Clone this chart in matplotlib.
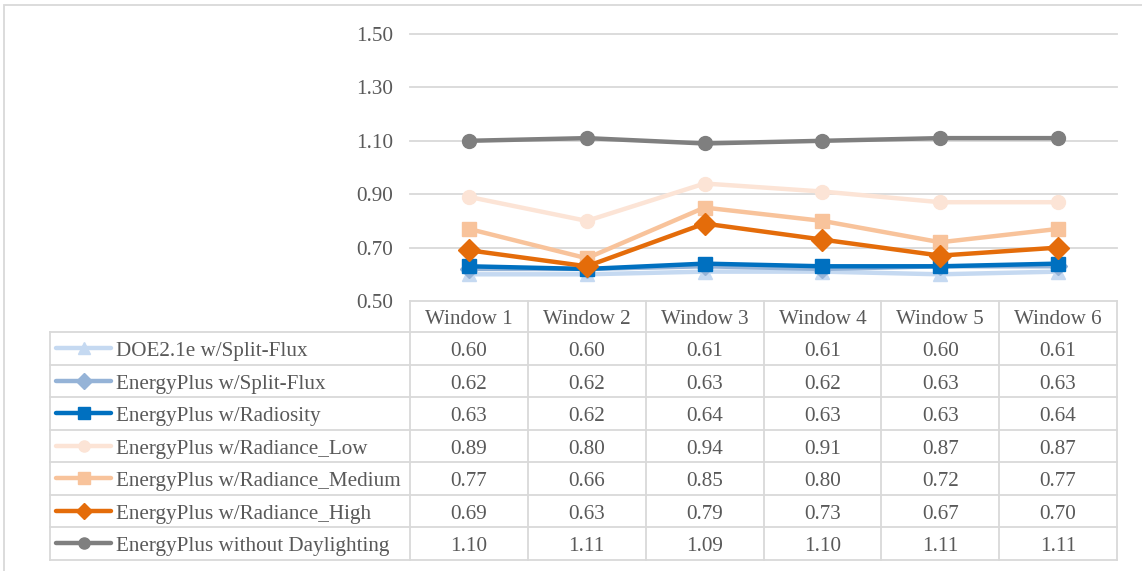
import matplotlib
matplotlib.use("Agg")
import matplotlib.pyplot as plt
from matplotlib.lines import Line2D
from matplotlib.patches import Rectangle

windows = ["Window 1", "Window 2", "Window 3", "Window 4", "Window 5", "Window 6"]
series_names = [
    "DOE2.1e w/Split-Flux",
    "EnergyPlus w/Split-Flux",
    "EnergyPlus w/Radiosity",
    "EnergyPlus w/Radiance_Low",
    "EnergyPlus w/Radiance_Medium",
    "EnergyPlus w/Radiance_High",
    "EnergyPlus without Daylighting",
]
doe2_split_flux = [0.60, 0.60, 0.61, 0.61, 0.60, 0.61]
ep_split_flux = [0.62, 0.62, 0.63, 0.62, 0.63, 0.63]
ep_radiosity = [0.63, 0.62, 0.64, 0.63, 0.63, 0.64]
ep_radiance_low = [0.89, 0.80, 0.94, 0.91, 0.87, 0.87]
ep_radiance_medium = [0.77, 0.66, 0.85, 0.80, 0.72, 0.77]
ep_radiance_high = [0.69, 0.63, 0.79, 0.73, 0.67, 0.70]
ep_no_daylighting = [1.10, 1.11, 1.09, 1.10, 1.11, 1.11]
y_ticks = [0.50, 0.70, 0.90, 1.10, 1.30, 1.50]

series_values = [doe2_split_flux, ep_split_flux, ep_radiosity, ep_radiance_low,
                 ep_radiance_medium, ep_radiance_high, ep_no_daylighting]
colors = ["#c5d9f1", "#95b3d7", "#0070c0", "#fce4d6", "#f8c39b", "#e46c0a", "#7f7f7f"]
markers = ["^", "D", "s", "o", "s", "D", "o"]
msizes = [10, 9, 10, 10, 10, 11.5, 10]

plt.rcParams["font.family"] = ["Liberation Serif", "DejaVu Serif"]
TXT = "#595959"
GRID = "#d9d9d9"
FS = 15.2

W, H = 1142, 571
fig = plt.figure(figsize=(W / 100, H / 100), dpi=100)


def fx(px):
    return px / W


def fy(py):
    return 1 - py / H


# plot region
left, right, top, bottom = 410, 1117, 34, 301
ax = fig.add_axes([fx(left), fy(bottom), fx(right) - fx(left), fy(top) - fy(bottom)])
ax.set_xlim(-0.5, len(windows) - 0.5)
ax.set_ylim(0.5, 1.5)
ax.set_yticks(y_ticks)
ax.set_yticklabels([f"{v:.2f}" for v in y_ticks], fontsize=FS, color=TXT)
ax.tick_params(axis="y", length=0, pad=12.5)
for lbl in ax.get_yticklabels():
    lbl.set_va("center_baseline")
ax.set_xticks([])
for s in ax.spines.values():
    s.set_visible(False)
for v in y_ticks:
    ax.axhline(v, color=GRID, lw=1.3, zorder=0, clip_on=False)

x = list(range(len(windows)))
for vals, c, m, ms in zip(series_values, colors, markers, msizes):
    ax.plot(x, vals, color=c, lw=3.2, marker=m, markersize=ms,
            markerfacecolor=c, markeredgecolor=c, zorder=3, clip_on=False)

# outer chart border
fig.add_artist(Rectangle((fx(4), fy(600)), fx(1200), fy(5) - fy(600),
                         transform=fig.transFigure, fill=False,
                         edgecolor=GRID, lw=1.3))

# data table
col_edges = [left + i * (right - left) / len(windows) for i in range(len(windows) + 1)]
row_edges = [301, 332, 364.5, 397, 429.5, 462, 494.5, 527, 559.5]
tab_left = 50


def hline(y, x0, x1):
    fig.add_artist(Line2D([fx(x0), fx(x1)], [fy(y), fy(y)], color=GRID, lw=1.3))


def vline(xp, y0, y1):
    fig.add_artist(Line2D([fx(xp), fx(xp)], [fy(y0), fy(y1)], color=GRID, lw=1.3))


def cell_text(px, py, s, ha="center"):
    fig.text(fx(px), fy(py + 1), s, ha=ha, va="center_baseline",
             fontsize=FS, color=TXT)


for i, ry in enumerate(row_edges):
    if i == 0:
        continue
    hline(ry, tab_left, right)
for ce in col_edges:
    vline(ce, row_edges[0], row_edges[-1])
vline(tab_left, row_edges[1], row_edges[-1])

for j, w in enumerate(windows):
    cx = (col_edges[j] + col_edges[j + 1]) / 2
    cell_text(cx, (row_edges[0] + row_edges[1]) / 2, w)

for i, (name, vals, c, m) in enumerate(zip(series_names, series_values, colors, markers)):
    cy = (row_edges[i + 1] + row_edges[i + 2]) / 2
    fig.add_artist(Line2D([fx(56), fx(111)], [fy(cy), fy(cy)], color=c, lw=3.2,
                          solid_capstyle="round"))
    fig.add_artist(Line2D([fx(83.5)], [fy(cy)], marker=m, markersize=8,
                          color=c, markeredgecolor=c))
    cell_text(116, cy, name, ha="left")
    for j, v in enumerate(vals):
        cx = (col_edges[j] + col_edges[j + 1]) / 2
        cell_text(cx, cy, f"{v:.2f}")

fig.savefig("out.png", dpi=100, facecolor="white")
